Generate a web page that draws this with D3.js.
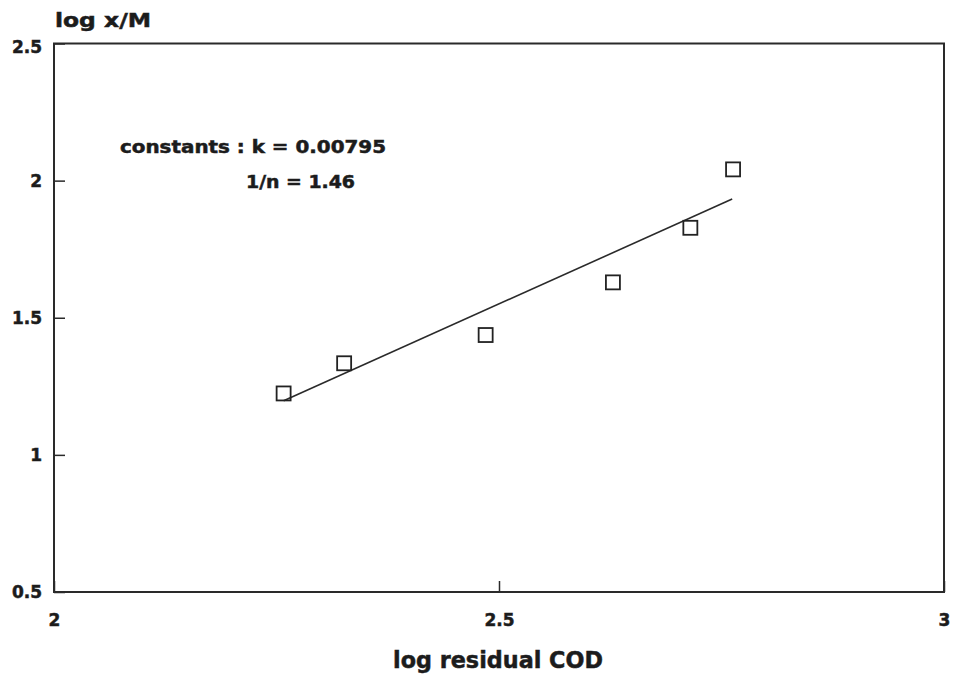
<!DOCTYPE html>
<html>
<head>
<meta charset="utf-8">
<script src="https://cdn.jsdelivr.net/npm/d3@7"></script>
<style>
  html, body { margin: 0; padding: 0; background: #fff; }
  svg { display: block; }
  text { font-family: "DejaVu Sans", "Liberation Sans", Arial, sans-serif; font-weight: bold; fill: #1c1c1c; stroke: #1c1c1c; stroke-width: 0.5px; }
</style>
</head>
<body>
<svg id="chart" width="954" height="674"></svg>
<script>
// Freundlich isotherm: log(x/M) against log residual COD
const logCOD = [2.258, 2.326, 2.485, 2.628, 2.715, 2.763];
const logXM  = [1.224, 1.334, 1.437, 1.629, 1.828, 2.041];

// Fitted constants (log x/M = log k + (1/n) log C)
const kConst = 0.00795;
const invN = 1.46;
const fitRange = [2.258, 2.762];

const xTicks = [2, 2.5, 3];
const yTicks = [0.5, 1, 1.5, 2, 2.5];
const xTickLabels = ["2", "2.5", "3"];
const yTickLabels = ["0.5", "1", "1.5", "2", "2.5"];

const svg = d3.select("#chart");
const m = { left: 54, right: 944, top: 43.5, bottom: 592 };

const x = d3.scaleLinear().domain([2, 3]).range([m.left, m.right]);
const y = d3.scaleLinear().domain([0.5, 2.5]).range([m.bottom, m.top]);

// Plot frame
svg.append("rect")
  .attr("x", m.left).attr("y", m.top)
  .attr("width", m.right - m.left).attr("height", m.bottom - m.top)
  .attr("fill", "none").attr("stroke", "#2a2a2a").attr("stroke-width", 2);

// Axes with inward ticks
const yAxis = d3.axisLeft(y)
  .tickValues(yTicks)
  .tickFormat((d, i) => yTickLabels[i])
  .tickSizeInner(-11).tickSizeOuter(0).tickPadding(12);
const gy = svg.append("g").attr("transform", `translate(${m.left},0)`).call(yAxis);
gy.select(".domain").remove();
gy.selectAll(".tick line").attr("stroke", "#2a2a2a").attr("stroke-width", 1.5);
gy.selectAll(".tick text").attr("font-size", 17).attr("fill", "#1c1c1c")
  .attr("dy", (d) => d === 2.5 ? "0.55em" : "0.32em")
  .attr("font-family", "DejaVu Sans").attr("font-weight", "bold");

const xAxis = d3.axisBottom(x)
  .tickValues(xTicks)
  .tickFormat((d, i) => xTickLabels[i])
  .tickSizeInner(-11).tickSizeOuter(0).tickPadding(22);
const gx = svg.append("g").attr("transform", `translate(0,${m.bottom})`).call(xAxis);
gx.select(".domain").remove();
gx.selectAll(".tick line").attr("stroke", "#2a2a2a").attr("stroke-width", 1.5);
gx.selectAll(".tick text").attr("font-size", 17).attr("fill", "#1c1c1c")
  .attr("font-family", "DejaVu Sans").attr("font-weight", "bold");

// Axis titles
svg.append("text")
  .attr("x", 55).attr("y", 27)
  .attr("font-size", 20)
  .attr("textLength", 96).attr("lengthAdjust", "spacingAndGlyphs")
  .text("log x/M");

svg.append("text")
  .attr("x", 393).attr("y", 668)
  .attr("font-size", 23)
  .attr("textLength", 210).attr("lengthAdjust", "spacingAndGlyphs")
  .text("log residual COD");

// Fitted line from the stated constants
const fitLine = fitRange.map(c => [c, Math.log10(kConst) + invN * c]);
svg.append("path")
  .datum(fitLine)
  .attr("d", d3.line().x(d => x(d[0])).y(d => y(d[1])))
  .attr("fill", "none").attr("stroke", "#2a2a2a").attr("stroke-width", 1.6);

// Observed points as open squares
const pts = logCOD.map((c, i) => ({ c, v: logXM[i] }));
const s = 14;
svg.append("g").selectAll("rect")
  .data(pts).join("rect")
  .attr("x", d => x(d.c) - s / 2)
  .attr("y", d => y(d.v) - s / 2)
  .attr("width", s).attr("height", s)
  .attr("fill", "none").attr("stroke", "#222").attr("stroke-width", 1.8);

// Constants annotation
svg.append("text")
  .attr("x", 120).attr("y", 153)
  .attr("font-size", 17)
  .attr("textLength", 266).attr("lengthAdjust", "spacingAndGlyphs")
  .text(`constants : k = ${kConst}`);
svg.append("text")
  .attr("x", 246).attr("y", 188)
  .attr("font-size", 17)
  .attr("textLength", 109).attr("lengthAdjust", "spacingAndGlyphs")
  .text(`1/n = ${invN}`);
</script>
</body>
</html>
